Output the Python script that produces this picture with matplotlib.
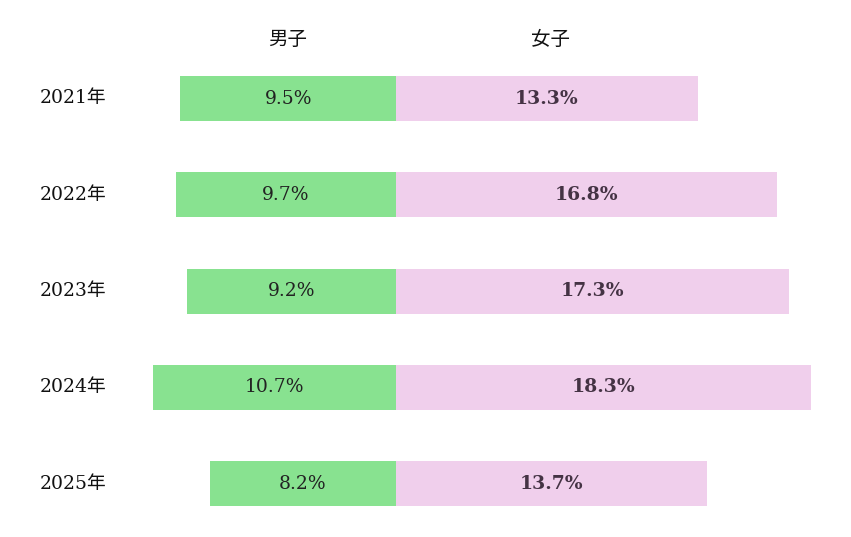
import matplotlib.pyplot as plt

plt.rcParams['font.family'] = ['DejaVu Serif', 'Noto Sans CJK JP']

years = ['2021年', '2022年', '2023年', '2024年', '2025年']
boys = [9.5, 9.7, 9.2, 10.7, 8.2]
girls = [13.3, 16.8, 17.3, 18.3, 13.7]

fig = plt.figure(figsize=(8.51, 5.37), dpi=100)
ax = fig.add_axes([0, 0, 1, 1])
ax.set_xlim(-396 / 22.7, (851 - 396) / 22.7)
ax.set_ylim((537 - 98.5) / 96.3, -98.5 / 96.3)
ax.axis('off')

pos = list(range(len(years)))
ax.barh(pos, [-b for b in boys], height=0.467, color='#88e290')
ax.barh(pos, girls, height=0.467, color='#f0cfec')

for i, y in enumerate(years):
    ax.text(-15.7, i, y, ha='left', va='center', fontsize=13.5, color='#111111')
    ax.text(-boys[i] / 2, i, f'{boys[i]}%', ha='center', va='center',
            fontsize=13.5, color='#222222')
    ax.text(girls[i] / 2, i, f'{girls[i]}%', ha='center', va='center',
            fontsize=13.5, color='#443344', fontweight='semibold')

ax.text((288 - 396) / 22.7, (40 - 98.5) / 96.3, '男子', ha='center', va='center',
        fontsize=14, color='#111111')
ax.text((551 - 396) / 22.7, (40 - 98.5) / 96.3, '女子', ha='center', va='center',
        fontsize=14, color='#111111')

fig.savefig('out.png', dpi=100)
